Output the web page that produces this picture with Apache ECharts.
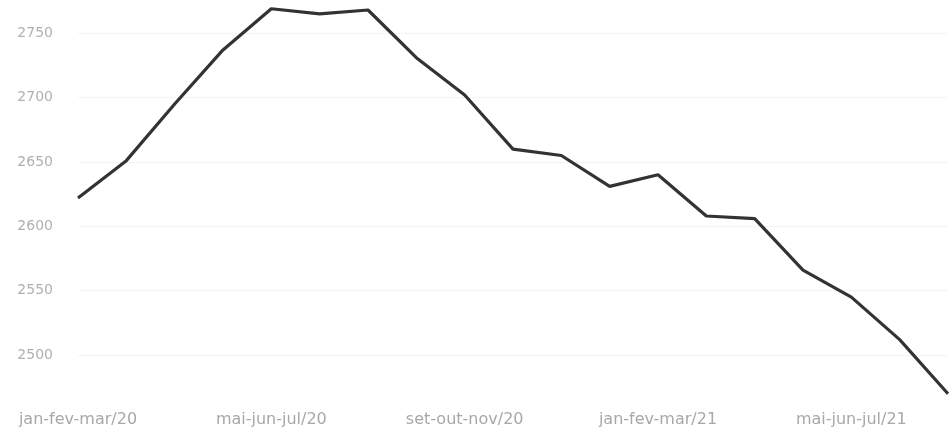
<!DOCTYPE html>
<html>
<head>
<meta charset="utf-8">
<script src="https://cdn.jsdelivr.net/npm/echarts@6/dist/echarts.min.js"></script>
<style>
html,body{margin:0;padding:0;background:#fff;}
#c{width:950px;height:431px;}
</style>
</head>
<body>
<div id="c"></div>
<script>
var categories = ['jan-fev-mar/20','fev-mar-abr/20','mar-abr-mai/20','abr-mai-jun/20','mai-jun-jul/20','jun-jul-ago/20','jul-ago-set/20','ago-set-out/20','set-out-nov/20','out-nov-dez/20','nov-dez-jan/21','dez-jan-fev/21','jan-fev-mar/21','fev-mar-abr/21','mar-abr-mai/21','abr-mai-jun/21','mai-jun-jul/21','jun-jul-ago/21','jul-ago-set/21'];
var values = [2622,2651,2695,2737,2769,2765,2768,2731,2702,2660,2655,2631,2640,2608,2606,2566,2545,2512,2470];

var chart = echarts.init(document.getElementById('c'));
chart.setOption({
  animation:false,
  grid:{left:78,right:2,top:1,bottom:27,containLabel:false},
  xAxis:{
    type:'category',
    data:categories,
    boundaryGap:false,
    axisLine:{show:false},
    axisTick:{show:false},
    axisLabel:{interval:3,color:'#a8a8a8',fontFamily:'DejaVu Sans',fontSize:16,margin:8}
  },
  yAxis:{
    type:'value',
    min:2462,
    max:2775,
    splitNumber:6,
    axisLine:{show:false},
    axisTick:{show:false},
    axisLabel:{color:'#b0b0b0',fontFamily:'DejaVu Sans',fontSize:14,margin:25,showMinLabel:false,showMaxLabel:false,
      formatter:function(v){return String(v);}},
    splitLine:{showMinLine:false,showMaxLine:false,lineStyle:{color:'#f3f3f3',width:1}}
  },
  series:[{
    type:'line',
    data:values,
    showSymbol:false,
    symbol:'none',
    lineStyle:{color:'#333333',width:3.2},
    itemStyle:{color:'#333333'}
  }]
});
</script>
</body>
</html>
